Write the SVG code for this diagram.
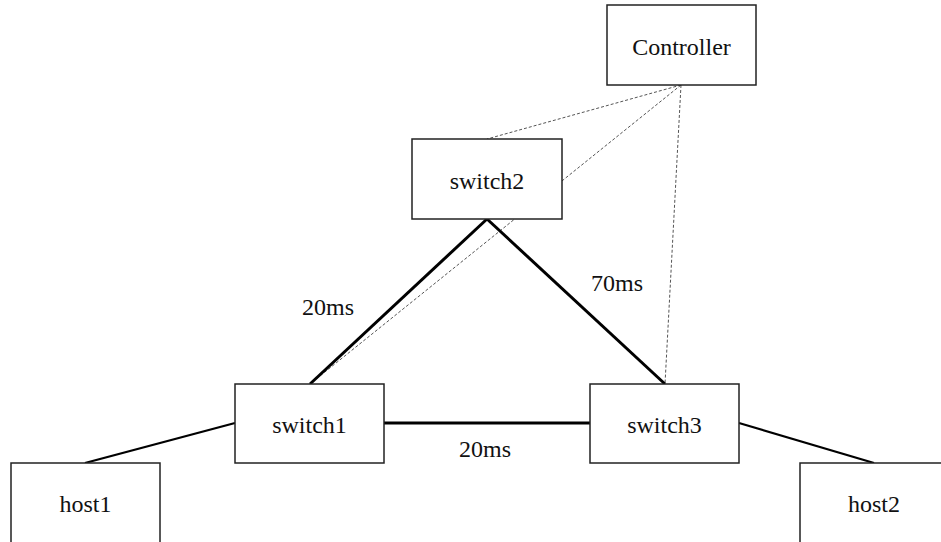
<svg xmlns="http://www.w3.org/2000/svg" width="941" height="542" viewBox="0 0 941 542">
  <style>
    .box { fill: #ffffff; stroke: #222222; stroke-width: 1.5; }
    .label { font-family: "Times New Roman", "Liberation Serif", Times, serif; font-size: 24px; fill: #111111; text-anchor: middle; }
    .link { stroke: #000000; stroke-width: 3; fill: none; }
    .hostlink { stroke: #000000; stroke-width: 2.2; fill: none; }
    .ctrl { stroke: #555555; stroke-width: 1; stroke-dasharray: 3 2; fill: none; }
  </style>
  <rect width="941" height="542" fill="#ffffff"/>

  <g id="connectors">
    <!-- control channels -->
    <line class="ctrl" x1="681" y1="85" x2="487" y2="139"/>
    <line class="ctrl" x1="681" y1="85" x2="310" y2="384"/>
    <line class="ctrl" x1="681" y1="85" x2="665" y2="384"/>
    <!-- data links -->
    <line class="link" x1="487" y1="219" x2="310" y2="384"/>
    <line class="link" x1="487" y1="219" x2="665" y2="384"/>
    <line class="link" x1="384" y1="423" x2="590" y2="423"/>
    <line class="hostlink" x1="235" y1="423" x2="85" y2="463"/>
    <line class="hostlink" x1="739" y1="423" x2="874" y2="463"/>
    <text class="label" x="328" y="315">20ms</text>
    <text class="label" x="617" y="291">70ms</text>
    <text class="label" x="485" y="457">20ms</text>
  </g>

  <g id="controller">
    <rect class="box" x="607" y="5" width="149" height="80"/>
    <text class="label" x="681.5" y="55">Controller</text>
  </g>
  <g id="switch2">
    <rect class="box" x="412" y="139" width="150" height="80"/>
    <text class="label" x="487" y="189">switch2</text>
  </g>
  <g id="switch1">
    <rect class="box" x="235" y="384" width="149" height="79"/>
    <text class="label" x="309.5" y="433">switch1</text>
  </g>
  <g id="switch3">
    <rect class="box" x="590" y="384" width="149" height="79"/>
    <text class="label" x="664.5" y="433">switch3</text>
  </g>
  <g id="host1">
    <rect class="box" x="11" y="463" width="149" height="90"/>
    <text class="label" x="85.5" y="512">host1</text>
  </g>
  <g id="host2">
    <rect class="box" x="800" y="463" width="149" height="90"/>
    <text class="label" x="874" y="512">host2</text>
  </g>
</svg>
